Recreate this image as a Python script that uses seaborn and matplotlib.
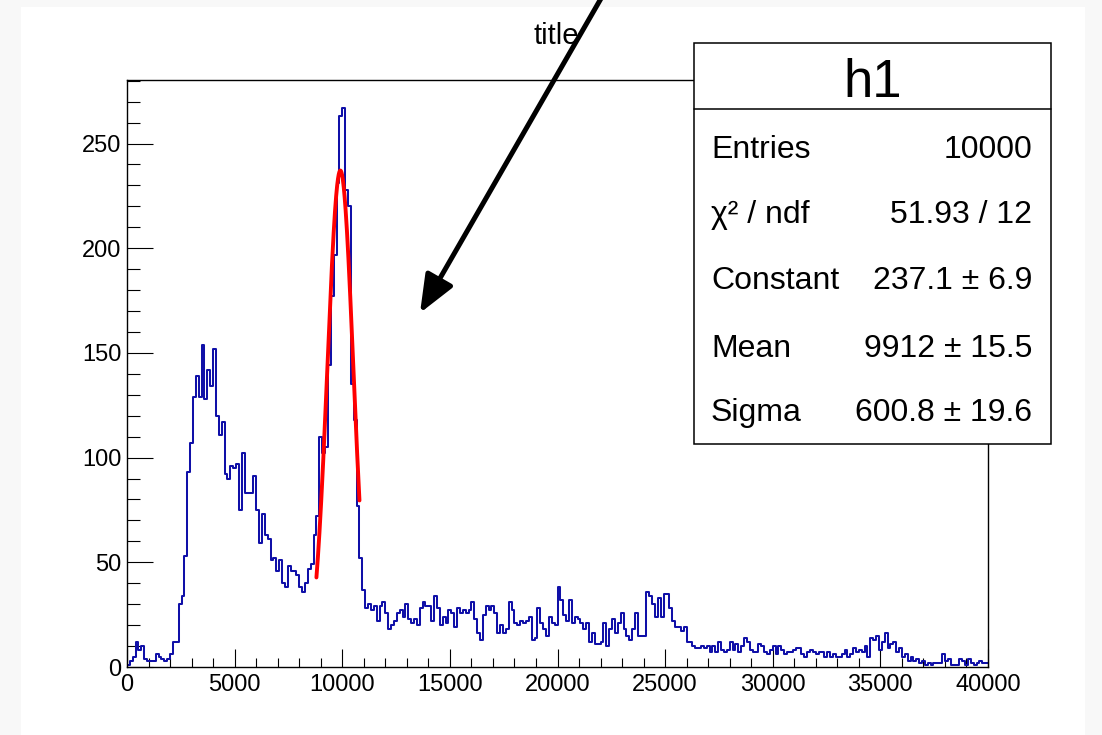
import matplotlib
matplotlib.use("Agg")
import matplotlib.pyplot as plt
import numpy as np
import pandas as pd
import seaborn as sns
from matplotlib.patches import Rectangle, FancyArrowPatch
from matplotlib.lines import Line2D
from matplotlib.ticker import MultipleLocator
from matplotlib.transforms import IdentityTransform

# ---------------------------------------------------------------
# Histogram h1: 300 bins on [0, 40000]
# ---------------------------------------------------------------
x_low, x_high, n_bins = 0.0, 40000.0, 300

# bins 0-57 : low-energy region and first broad peak
counts_low = [1, 3, 5, 12, 8, 10, 4, 3, 3, 3, 6, 5, 4, 3, 4, 6, 12, 12,
              30, 34, 53, 93, 107, 129, 139, 129, 154, 128, 142, 134, 152, 120,
              111, 117, 92, 90, 96, 95, 97, 75, 102, 83, 83, 83, 91, 75, 59, 73,
              63, 61, 51, 52, 46, 51, 40, 38, 48, 46]
# bins 58-88 : valley and the fitted peak
counts_peak = [46, 44, 38, 36, 40, 47, 49, 63, 72, 110, 102, 105, 144, 177,
               197, 231, 263, 267, 228, 220, 135, 118, 77, 52, 37, 28, 30, 27,
               29, 22, 29]
# bins 89-150 : flat plateau
counts_mid = [31, 26, 18, 20, 22, 26, 27, 24, 30, 23, 21, 23, 20, 28, 31, 29,
              29, 22, 34, 28, 20, 24, 21, 27, 26, 19, 28, 26, 27, 26, 27, 31,
              23, 16, 13, 25, 29, 27, 29, 26, 16, 20, 16, 18, 31, 27, 21, 20,
              22, 21, 22, 24, 13, 14, 28, 21, 18, 15, 24, 21, 20, 38]
# bins 151-216 : plateau with the bump near 25000
counts_upper = [32, 25, 22, 32, 21, 24, 23, 21, 18, 21, 12, 16, 11, 11, 12, 21,
                10, 18, 23, 16, 21, 26, 18, 15, 13, 18, 26, 15, 15, 15, 36, 34,
                30, 24, 33, 24, 35, 35, 28, 22, 19, 19, 17, 19, 12, 12, 10, 9,
                9, 10, 9, 10, 7, 10, 7, 12, 8, 7, 8, 12, 8, 11, 7, 10, 14, 12]
# bins 217-299 : high-energy tail
counts_tail = [8, 7, 7, 11, 10, 7, 6, 8, 10, 6, 10, 8, 6, 7, 7, 8, 9, 9, 6, 5,
               7, 8, 7, 6, 7, 7, 5, 7, 5, 6, 5, 5, 6, 8, 5, 6, 9, 7, 8, 7, 10,
               5, 14, 13, 15, 8, 12, 16, 9, 11, 12, 7, 9, 5, 6, 3, 5, 3, 4, 2,
               3, 1, 2, 1, 2, 2, 2, 6, 3, 4, 1, 1, 1, 4, 3, 1, 4, 2, 1, 2, 3,
               2, 2]

hist_name = "h1"
hist_title = "title"
stat_names = ["Entries", "χ² / ndf", "Constant", "Mean", "Sigma"]
stat_values = ["10000", "51.93 / 12", "237.1 ± 6.9", "9912 ± 15.5", "600.8 ± 19.6"]

# Gaussian fit result
fit_constant = 237.1
fit_mean = 9912.0
fit_sigma = 600.8
fit_low, fit_high = 8800.0, 10800.0

# ---------------------------------------------------------------
W, H = 1102, 735
sns.set_theme(style="ticks")
plt.rcParams["font.family"] = ["Liberation Sans", "DejaVu Sans"]
plt.rcParams["axes.edgecolor"] = "black"
plt.rcParams["xtick.color"] = "black"
plt.rcParams["ytick.color"] = "black"
plt.rcParams["text.color"] = "black"


def fx(px):
    return px / W


def fy(py):
    return 1.0 - py / H


fig = plt.figure(figsize=(W / 100, H / 100), dpi=100, facecolor="#f8f8f8")

# white canvas
fig.patches.append(Rectangle((fx(21), 0.0), fx(1085) - fx(21), fy(7),
                             transform=fig.transFigure, facecolor="white",
                             edgecolor="none", zorder=-5))

ax = fig.add_axes([fx(127), fy(667), fx(988) - fx(127), fy(80) - fy(667)])
ax.set_facecolor("white")

counts = np.array(counts_low + counts_peak + counts_mid + counts_upper + counts_tail,
                  dtype=float)
bin_width = (x_high - x_low) / n_bins
centers = x_low + bin_width * (np.arange(n_bins) + 0.5)
hist_df = pd.DataFrame({"x": centers, "n": counts})

sns.histplot(data=hist_df, x="x", weights="n", bins=n_bins,
             binrange=(x_low, x_high), element="step",
             fill=False, color="#1010a8", linewidth=1.45, ax=ax)

fit_x = np.linspace(fit_low, fit_high, 300)
fit_df = pd.DataFrame({
    "x": fit_x,
    "y": fit_constant * np.exp(-0.5 * ((fit_x - fit_mean) / fit_sigma) ** 2),
})
sns.lineplot(data=fit_df, x="x", y="y", color="#ff0000", linewidth=2.8, ax=ax)

ax.set_xlim(x_low, x_high)
ax.set_ylim(0, 1.05 * counts.max())
ax.set_xlabel("")
ax.set_ylabel("")
ax.grid(False)

for sp in ax.spines.values():
    sp.set_visible(True)
    sp.set_color("black")
    sp.set_linewidth(1.0)

ax.xaxis.set_major_locator(MultipleLocator(5000))
ax.xaxis.set_minor_locator(MultipleLocator(1000))
ax.yaxis.set_major_locator(MultipleLocator(50))
ax.yaxis.set_minor_locator(MultipleLocator(10))
ax.tick_params(axis="x", which="major", direction="in", length=12.7, width=0.8,
               labelsize=17, pad=5, top=False, bottom=True)
ax.tick_params(axis="x", which="minor", direction="in", length=6.3, width=0.8,
               top=False, bottom=True)
ax.tick_params(axis="y", which="major", direction="in", length=18.7, width=0.8,
               labelsize=17, pad=4, right=False, left=True)
ax.tick_params(axis="y", which="minor", direction="in", length=9.4, width=0.8,
               right=False, left=True)

# title
fig.text(fx(556), fy(44), hist_title, ha="center", va="baseline", fontsize=21)

# statistics box
box_l, box_t, box_r, box_b = 694, 43, 1051, 444
fig.patches.append(Rectangle((fx(box_l), fy(box_b)), fx(box_r) - fx(box_l),
                             fy(box_t) - fy(box_b), transform=fig.transFigure,
                             facecolor="white", edgecolor="black", linewidth=1.1,
                             zorder=5))
fig.add_artist(Line2D([fx(box_l), fx(box_r)], [fy(109), fy(109)],
                      transform=fig.transFigure, color="black", linewidth=1.1,
                      zorder=6))
fig.text(fx((box_l + box_r) / 2), fy(97), hist_name, ha="center", va="baseline",
         fontsize=38, zorder=7)
row_baselines = [158, 223, 289, 357, 421]
for name, val, yb in zip(stat_names, stat_values, row_baselines):
    fig.text(fx(711), fy(yb), name, ha="left", va="baseline", fontsize=23, zorder=7)
    fig.text(fx(1032), fy(yb), val, ha="right", va="baseline", fontsize=23, zorder=7)

# arrow pointing into the plot
arrow = FancyArrowPatch(posA=(603, H + 5), posB=(420, H - 313),
                        transform=IdentityTransform(),
                        arrowstyle="-|>,head_length=1.15,head_width=0.47",
                        mutation_scale=20, linewidth=3.6, color="black",
                        shrinkA=0, shrinkB=0, zorder=10)
fig.add_artist(arrow)

fig.savefig("out.png", dpi=100, facecolor=fig.get_facecolor())
